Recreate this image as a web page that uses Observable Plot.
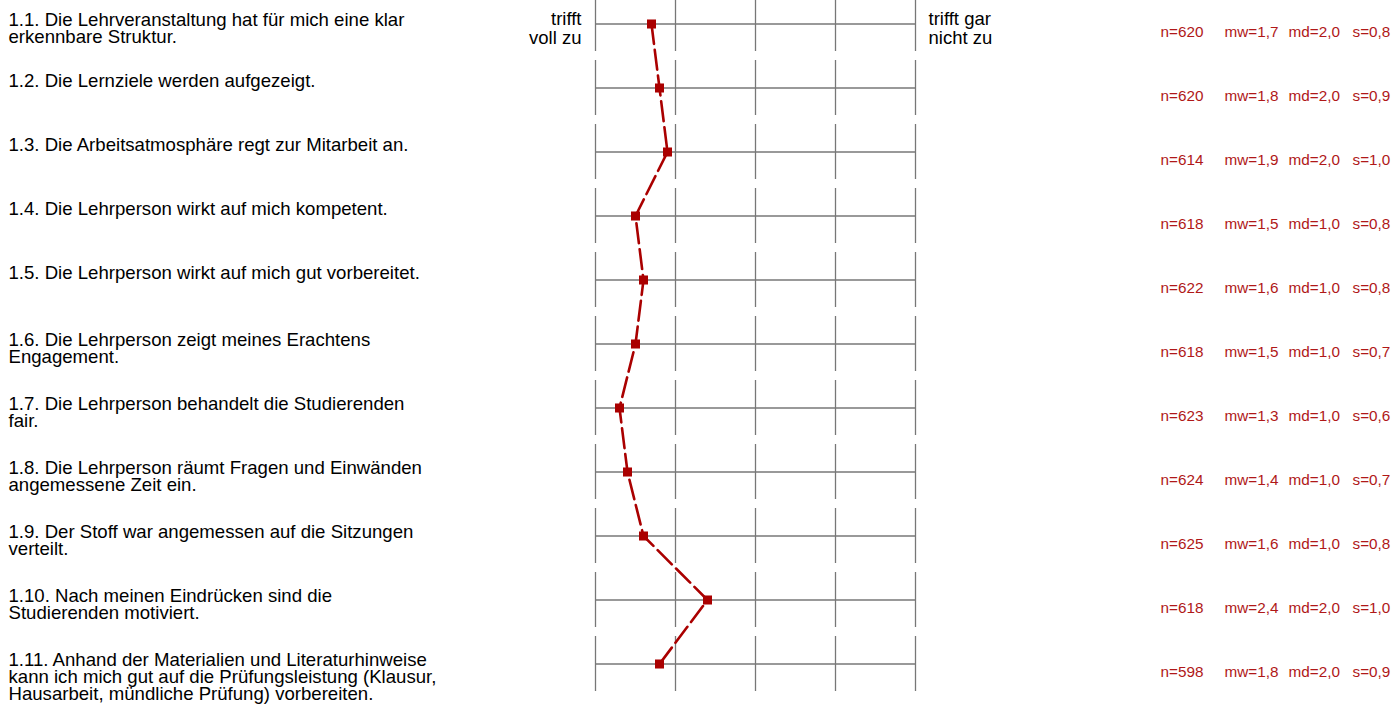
<!DOCTYPE html>
<html><head><meta charset="utf-8">
<script src="https://cdn.jsdelivr.net/npm/d3@7"></script>
<script src="https://cdn.jsdelivr.net/npm/@observablehq/plot@0.6"></script>
<style>body{margin:0;background:#fff} svg{display:block}</style>
</head><body><div id="chart"></div>
<script>
const ids = ["1.1","1.2","1.3","1.4","1.5","1.6","1.7","1.8","1.9","1.10","1.11"];
const labels = [
  "1.1. Die Lehrveranstaltung hat für mich eine klar\nerkennbare Struktur.",
  "1.2. Die Lernziele werden aufgezeigt.",
  "1.3. Die Arbeitsatmosphäre regt zur Mitarbeit an.",
  "1.4. Die Lehrperson wirkt auf mich kompetent.",
  "1.5. Die Lehrperson wirkt auf mich gut vorbereitet.",
  "1.6. Die Lehrperson zeigt meines Erachtens\nEngagement.",
  "1.7. Die Lehrperson behandelt die Studierenden\nfair.",
  "1.8. Die Lehrperson räumt Fragen und Einwänden\nangemessene Zeit ein.",
  "1.9. Der Stoff war angemessen auf die Sitzungen\nverteilt.",
  "1.10. Nach meinen Eindrücken sind die\nStudierenden motiviert.",
  "1.11. Anhand der Materialien und Literaturhinweise\nkann ich mich gut auf die Prüfungsleistung (Klausur,\nHausarbeit, mündliche Prüfung) vorbereiten."
];
const nValues  = [620, 620, 614, 618, 622, 618, 623, 624, 625, 618, 598];
const mwValues = [1.7, 1.8, 1.9, 1.5, 1.6, 1.5, 1.3, 1.4, 1.6, 2.4, 1.8];
const mdValues = [2.0, 2.0, 2.0, 1.0, 1.0, 1.0, 1.0, 1.0, 1.0, 2.0, 2.0];
const sValues  = [0.8, 0.9, 1.0, 0.8, 0.8, 0.7, 0.6, 0.7, 0.8, 1.0, 0.9];
const scaleTicks = [1, 2, 3, 4, 5];
const leftPole = "trifft\nvoll zu";
const rightPole = "trifft gar\nnicht zu";

const de = v => d3.format(".1f")(v).replace(".", ",");
const rows = ids.map((id, i) => ({
  id, label: labels[i], n: nValues[i], mw: mwValues[i], md: mdValues[i], s: sValues[i]
}));
const grid = ids.flatMap(id => scaleTicks.map(v => ({id, v})));
const singleLine = rows.filter(d => !d.label.includes("\n"));
const multiLine = rows.filter(d => d.label.includes("\n"));

const red = "#aa0000";
const statRed = "#b01818";
const font = "'Liberation Sans', Arial, Helvetica, sans-serif";
const labelStyle = {y: "id", text: "label", frameAnchor: "left", textAnchor: "start", dx: 8, lineAnchor: "top", fontSize: 18.6, lineHeight: 0.93, fill: "#000"};
const statStyle = {y: "id", frameAnchor: "left", textAnchor: "start", lineAnchor: "top", dy: 2.1, fontSize: 15.3, fill: statRed};

const chart = Plot.plot({
  width: 1394,
  height: 704,
  margin: 0,
  x: {domain: [1, 5], range: [595, 915], axis: null},
  y: {type: "band", domain: ids, range: [-8, 696], paddingInner: 0.14, paddingOuter: 0.07, axis: null},
  style: {fontFamily: font, background: "#fff"},
  marks: [
    Plot.tickX(grid, {x: "v", y: "id", stroke: "#777", strokeWidth: 1.3}),
    Plot.ruleY(rows, {y: "id", x1: scaleTicks[0], x2: scaleTicks[scaleTicks.length - 1], stroke: "#777", strokeWidth: 1.3}),
    Plot.line(rows, {x: "mw", y: "id", stroke: red, strokeWidth: 2.6, strokeDasharray: "20,6"}),
    Plot.dot(rows, {x: "mw", y: "id", symbol: "square", fill: red, r: 5.1}),
    Plot.text(singleLine, {...labelStyle, dy: -12.8}),
    Plot.text(multiLine, {...labelStyle, dy: -10.7}),
    Plot.text([leftPole], {x: scaleTicks[0], y: () => ids[0], text: d => d, textAnchor: "end", dx: -14, lineAnchor: "top", dy: -11.5, fontSize: 18.5, lineHeight: 0.98, fill: "#000"}),
    Plot.text([rightPole], {x: scaleTicks[scaleTicks.length - 1], y: () => ids[0], text: d => d, textAnchor: "start", dx: 13, lineAnchor: "top", dy: -11.5, fontSize: 18.5, lineHeight: 0.98, fill: "#000"}),
    Plot.text(rows, {...statStyle, text: d => `n=${d.n}`, dx: 1160}),
    Plot.text(rows, {...statStyle, text: d => `mw=${de(d.mw)}`, dx: 1224}),
    Plot.text(rows, {...statStyle, text: d => `md=${de(d.md)}`, dx: 1288}),
    Plot.text(rows, {...statStyle, text: d => `s=${de(d.s)}`, dx: 1352})
  ]
});
document.getElementById("chart").append(chart);
</script>
</body></html>
